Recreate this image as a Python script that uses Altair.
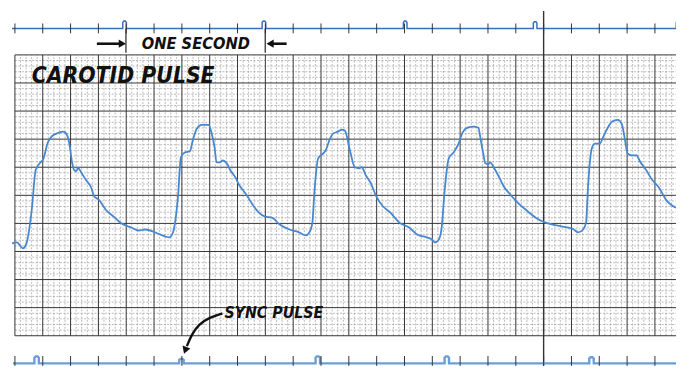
import altair as alt
import pandas as pd
import numpy as np

# ---- carotid pulse trace (time in s, amplitude in major grid divisions) ----
wave_t = [-0.021, 0.014, 0.057, 0.085, 0.121, 0.149, 0.178, 0.206, 0.234, 0.263,
          0.298, 0.348, 0.369, 0.391, 0.412, 0.426, 0.440, 0.455, 0.476, 0.511,
          0.547, 0.568, 0.604, 0.653, 0.710, 0.767, 0.838, 0.888, 0.938, 1.009,
          1.080, 1.108, 1.136, 1.151, 1.172, 1.193, 1.222, 1.257, 1.278, 1.307,
          1.342, 1.392, 1.413, 1.435, 1.449, 1.477, 1.491, 1.527, 1.548, 1.584,
          1.612, 1.655, 1.719, 1.754, 1.797, 1.847, 1.903, 1.974, 2.045, 2.088,
          2.116, 2.138, 2.152, 2.180, 2.216, 2.237, 2.259, 2.287, 2.322, 2.351,
          2.372, 2.408, 2.443, 2.472, 2.493, 2.521, 2.557, 2.599, 2.642, 2.699,
          2.763, 2.834, 2.891, 2.962, 2.997, 3.018, 3.047, 3.068, 3.089, 3.118,
          3.153, 3.189, 3.217, 3.253, 3.295, 3.331, 3.345, 3.366, 3.381, 3.402,
          3.416, 3.445, 3.480, 3.516, 3.551, 3.615, 3.672, 3.743, 3.814, 3.864,
          3.935, 4.006, 4.048, 4.084, 4.105, 4.119, 4.148, 4.169, 4.205, 4.226,
          4.261, 4.290, 4.332, 4.361, 4.382, 4.403, 4.432, 4.467, 4.496, 4.538,
          4.581, 4.631, 4.680, 4.716, 4.751]
wave_y = [3.290, 3.325, 3.114, 3.325, 4.486, 5.894, 6.140, 6.316, 6.844, 7.090,
          7.196, 7.266, 7.196, 6.844, 6.140, 5.894, 5.859, 5.964, 5.823, 5.542,
          5.296, 4.979, 4.838, 4.486, 4.240, 3.994, 3.853, 3.747, 3.783, 3.677,
          3.536, 3.501, 3.677, 4.029, 4.944, 6.351, 6.527, 6.562, 6.949, 7.372,
          7.512, 7.512, 7.231, 6.703, 6.175, 6.175, 6.246, 6.105, 5.894, 5.647,
          5.366, 5.084, 4.592, 4.381, 4.240, 4.205, 3.958, 3.783, 3.677, 3.571,
          3.677, 4.029, 5.084, 6.316, 6.492, 6.633, 6.949, 7.196, 7.266, 7.336,
          7.301, 6.597, 5.999, 5.964, 5.999, 5.718, 5.436, 4.944, 4.627, 4.381,
          4.029, 3.853, 3.607, 3.501, 3.431, 3.325, 3.431, 3.888, 5.190, 6.316,
          6.527, 6.844, 7.231, 7.407, 7.442, 7.407, 7.055, 6.492, 6.140, 6.105,
          6.175, 5.964, 5.647, 5.296, 5.084, 4.733, 4.486, 4.205, 4.029, 3.958,
          3.888, 3.818, 3.677, 3.783, 4.029, 5.296, 6.703, 6.844, 6.844, 7.055,
          7.407, 7.618, 7.688, 7.548, 7.055, 6.492, 6.422, 6.422, 6.175, 5.894,
          5.542, 5.260, 4.838, 4.662, 4.557]

# ---- sync pulse traces ----
top_blip_t = [0.788, 1.790, 2.805, 3.739, 4.766]
top_blip_h = [0.26, 0.26, 0.26, 0.24, 0.26]
bottom_blip_t = [0.156, 1.197, 2.177, 3.104, 4.144]
bottom_blip_h = [0.25, 0.16, 0.25, 0.25, 0.22]
top_base = 10.943
bottom_base = -0.985

# ---- annotation arrow (sync pulse) ----
arrow_t = [1.491, 1.399, 1.321, 1.271, 1.236]
arrow_y = [0.792, 0.651, 0.405, 0.053, -0.369]

# ---- frame / grid ----
X0, X1 = -0.0497, 4.7514
Y0, Y1 = -1.073, 11.594
major_t = [round(v, 3) for v in np.arange(0, 4.61, 0.2)]
minor_t = [round(v, 3) for v in np.arange(0, 4.73, 0.04) if abs(v / 0.2 - round(v / 0.2)) > 1e-6]
major_y = list(range(0, 11))
minor_y = [round(v, 3) for v in np.arange(0, 10.01, 0.2) if abs(v - round(v)) > 1e-6]

xs = alt.Scale(domain=[X0, X1], nice=False, zero=False)
ys = alt.Scale(domain=[Y0, Y1], nice=False, zero=False)


def X(f):
    return alt.X(f, type="quantitative", scale=xs, axis=None)


def Y(f):
    return alt.Y(f, type="quantitative", scale=ys, axis=None)


def trace(t_start, t_end, blips, heights, base, hw):
    pts = [(t_start, base)]
    for c, h in zip(blips, heights):
        pts += [(c - hw, base), (c - hw, base + h * 0.8), (c - hw * 0.4, base + h),
                (c + hw * 0.4, base + h), (c + hw, base + h * 0.8), (c + hw, base)]
    pts.append((t_end, base))
    return pd.DataFrame({"t": [p[0] for p in pts], "y": [p[1] for p in pts],
                         "i": list(range(len(pts)))})


vgrid_minor = alt.Chart(pd.DataFrame({"t": minor_t, "a": 0, "b": 10})).mark_rule(
    color="#8c8c8c", strokeWidth=0.6, strokeDash=[2, 1.5]).encode(x=X("t"), y=Y("a"), y2="b")
hgrid_minor = alt.Chart(pd.DataFrame({"y": minor_y, "a": 0, "b": X1})).mark_rule(
    color="#8c8c8c", strokeWidth=0.6, strokeDash=[2, 1.5]).encode(y=Y("y"), x=X("a"), x2="b")
vgrid_major = alt.Chart(pd.DataFrame({"t": major_t, "a": 0, "b": 10})).mark_rule(
    color="#333", strokeWidth=1).encode(x=X("t"), y=Y("a"), y2="b")
hgrid_major = alt.Chart(pd.DataFrame({"y": major_y, "a": 0, "b": X1})).mark_rule(
    color="#333", strokeWidth=1).encode(y=Y("y"), x=X("a"), x2="b")
cut_line = alt.Chart(pd.DataFrame({"t": [3.8], "a": Y0, "b": 11.56})).mark_rule(
    color="#333", strokeWidth=1.4).encode(x=X("t"), y=Y("a"), y2="b")

top_df = trace(-0.021, X1 + 0.05, top_blip_t, top_blip_h, top_base, 0.013)
top_line = alt.Chart(top_df).mark_line(color="#3b6fb8", strokeWidth=1.5, clip=True).encode(
    x=X("t"), y=Y("y"), order="i:Q")
top_ticks = alt.Chart(pd.DataFrame({"t": major_t, "a": 10.767, "b": 11.119})).mark_rule(
    color="#333", strokeWidth=1).encode(x=X("t"), y=Y("a"), y2="b")

bot_df = trace(-0.014, X1 + 0.05, bottom_blip_t, bottom_blip_h, bottom_base, 0.016)
bot_line = alt.Chart(bot_df).mark_line(color="#6a9ed9", strokeWidth=2.4, clip=True).encode(
    x=X("t"), y=Y("y"), order="i:Q")
bot_ticks = alt.Chart(pd.DataFrame({"t": major_t, "a": -0.72, "b": Y0})).mark_rule(
    color="#333", strokeWidth=1).encode(x=X("t"), y=Y("a"), y2="b")

wave = alt.Chart(pd.DataFrame({"t": wave_t, "y": wave_y})).mark_line(
    color="#4787cf", strokeWidth=1.8, interpolate="monotone", clip=True).encode(
    x=X("t"), y=Y("y"))

# one second marker
sec_bars = alt.Chart(pd.DataFrame({"t": [0.798, 1.799], "a": 10.08, "b": top_base})).mark_rule(
    color="#222", strokeWidth=1.2).encode(x=X("t"), y=Y("a"), y2="b")
sec_arrows = alt.Chart(pd.DataFrame({"a": [0.589, 1.953], "b": [0.765, 1.842], "y": 10.398})).mark_rule(
    color="#111", strokeWidth=2.6).encode(x=X("a"), x2="b", y=Y("y"))
head_r = alt.Chart(pd.DataFrame({"t": [0.772], "y": [10.398]})).mark_point(
    shape="triangle-right", filled=True, color="#111", size=70, opacity=1).encode(x=X("t"), y=Y("y"))
head_l = alt.Chart(pd.DataFrame({"t": [1.834], "y": [10.398]})).mark_point(
    shape="triangle-left", filled=True, color="#111", size=70, opacity=1).encode(x=X("t"), y=Y("y"))

font = "'DejaVu Sans Condensed', 'DejaVu Sans', sans-serif"
txt_sec = alt.Chart(pd.DataFrame({"t": [1.300], "y": [10.398], "s": ["ONE SECOND"]})).mark_text(
    font=font, fontSize=16.5, fontWeight="bold", fontStyle="italic", color="#111",
    align="center", baseline="middle").encode(x=X("t"), y=Y("y"), text="s:N")
txt_title = alt.Chart(pd.DataFrame({"t": [0.121], "y": [9.236], "s": ["CAROTID PULSE"]})).mark_text(
    font=font, fontSize=23, fontWeight="bold", fontStyle="italic", color="#111",
    align="left", baseline="middle").encode(x=X("t"), y=Y("y"), text="s:N")
txt_sync = alt.Chart(pd.DataFrame({"t": [1.506], "y": [0.792], "s": ["SYNC PULSE"]})).mark_text(
    font=font, fontSize=16, fontWeight="bold", fontStyle="italic", color="#111",
    align="left", baseline="middle").encode(x=X("t"), y=Y("y"), text="s:N")

arrow_curve = alt.Chart(pd.DataFrame({"t": arrow_t, "y": arrow_y, "i": range(len(arrow_t))})).mark_line(
    color="#111", strokeWidth=2.4, interpolate="basis").encode(x=X("t"), y=Y("y"), order="i:Q")
arrow_head = alt.Chart(pd.DataFrame({"t": [1.224], "y": [-0.52]})).mark_point(
    shape="triangle-down", filled=True, color="#111", size=70, opacity=1, angle=20).encode(
    x=X("t"), y=Y("y"))

chart = alt.layer(
    vgrid_minor, hgrid_minor, vgrid_major, hgrid_major, cut_line,
    top_line, top_ticks, bot_line, bot_ticks, wave,
    sec_bars, sec_arrows, head_r, head_l, txt_sec, txt_title, txt_sync,
    arrow_curve, arrow_head,
).properties(
    width=676, height=360, autosize=alt.AutoSizeParams(type="none"), padding=0,
    background="white",
).configure_view(stroke=None)

chart.save("out.html", embed_options={"renderer": "svg", "actions": False})
